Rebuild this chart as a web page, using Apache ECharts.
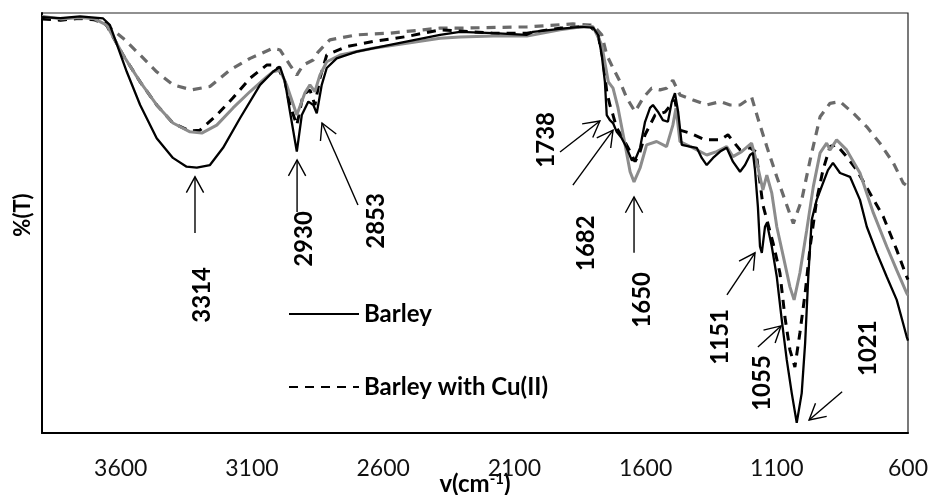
<!DOCTYPE html>
<html>
<head>
<meta charset="utf-8">
<script src="https://cdn.jsdelivr.net/npm/echarts@6/dist/echarts.min.js"></script>
<style>
html,body{margin:0;padding:0;background:#fff;}
#chart{width:931px;height:495px;}
</style>
</head>
<body>
<div id="chart"></div>
<script>
// x tick labels (wavenumber, cm-1)
const tickLabels = [3600, 3100, 2600, 2100, 1600, 1100, 600];

// Barley (black solid): [wavenumber, %T]
const barley = [[3900,99.0],[3830,98.8],[3755,99.2],[3700,98.9],[3667,98.7],[3641,97.1],[3577,86.0],[3526,78.1],[3463,70.2],[3401,65.5],[3349,63.4],[3310,63.2],[3260,63.8],[3210,67.9],[3145,75.0],[3069,82.9],[3020,86.0],[2993,87.2],[2974,83.6],[2955,76.5],[2929,67.0],[2910,75.7],[2885,78.9],[2866,78.1],[2853,76.1],[2834,82.9],[2815,86.9],[2777,89.2],[2701,90.8],[2574,92.4],[2383,94.8],[2307,95.5],[2181,95.2],[2052,94.8],[2029,95.5],[1926,96.2],[1850,96.7],[1800,96.5],[1781,94.8],[1767,90.0],[1755,83.6],[1748,75.7],[1736,74.5],[1724,73.8],[1710,71.7],[1691,70.2],[1672,67.9],[1653,65.0],[1640,65.0],[1621,67.9],[1602,74.1],[1583,77.4],[1572,78.1],[1553,76.5],[1534,74.5],[1515,74.1],[1500,78.9],[1488,80.9],[1476,76.5],[1462,68.6],[1431,68.2],[1405,67.9],[1386,65.5],[1367,63.8],[1343,65.5],[1316,67.0],[1291,67.9],[1267,64.6],[1240,62.2],[1221,63.8],[1202,66.2],[1191,66.7],[1183,62.6],[1172,53.9],[1164,44.4],[1157,42.9],[1145,49.1],[1138,50.0],[1119,44.4],[1100,37.2],[1081,26.9],[1062,17.4],[1043,9.5],[1024,2.4],[1005,9.5],[992,21.4],[980,37.2],[967,50.7],[948,55.5],[924,59.5],[905,62.6],[886,64.3],[859,61.9],[821,61.0],[783,55.5],[757,49.1],[719,42.9],[681,37.2],[643,31.7],[619,26.2],[605,22.9],[600,22.0]];

// Barley with Cu(II) (black dashed)
const barleyCu = [[3900,98.6],[3830,98.3],[3755,98.8],[3700,98.4],[3667,98.3],[3653,97.0],[3591,90.0],[3526,83.6],[3463,78.1],[3401,73.8],[3336,71.9],[3298,72.1],[3234,75.7],[3172,79.8],[3107,84.5],[3044,87.6],[3006,87.6],[2974,83.6],[2955,78.0],[2929,73.3],[2905,80.5],[2879,81.7],[2860,78.1],[2841,84.5],[2815,90.0],[2739,92.0],[2639,93.2],[2510,94.4],[2383,96.0],[2307,95.7],[2181,95.2],[2052,95.2],[1926,96.4],[1812,96.9],[1781,94.8],[1762,88.8],[1748,81.3],[1736,78.1],[1724,75.7],[1710,72.6],[1686,70.2],[1659,67.0],[1640,64.6],[1621,67.0],[1602,71.0],[1564,75.7],[1526,76.4],[1488,79.3],[1469,72.1],[1431,71.4],[1374,69.8],[1316,69.8],[1286,71.0],[1240,67.4],[1202,67.9],[1179,66.9],[1153,54.3],[1114,45.2],[1088,38.1],[1069,27.6],[1050,19.8],[1031,15.7],[1012,23.8],[992,33.3],[973,44.3],[948,55.5],[924,62.6],[897,68.2],[872,68.6],[834,65.8],[795,62.6],[745,57.1],[694,51.5],[643,43.6],[605,37.2],[600,36.5]];

// grey solid spectrum
const greySolid = [[3900,99.2],[3830,98.6],[3755,98.9],[3700,98.6],[3653,97.1],[3591,90.0],[3526,83.6],[3463,78.1],[3401,73.8],[3336,71.7],[3291,71.4],[3234,73.3],[3172,77.4],[3107,81.3],[3044,84.8],[3020,86.0],[2993,86.4],[2968,82.9],[2929,75.7],[2898,81.0],[2879,82.9],[2860,81.3],[2841,85.2],[2815,88.4],[2764,90.0],[2639,91.6],[2510,92.8],[2383,94.0],[2307,94.3],[2181,94.5],[2052,94.5],[1926,96.0],[1823,96.9],[1800,96.7],[1767,92.4],[1742,83.6],[1724,82.1],[1705,77.4],[1678,68.6],[1659,62.2],[1644,59.8],[1621,63.1],[1596,68.6],[1558,69.4],[1520,68.2],[1496,73.3],[1484,77.4],[1469,69.4],[1419,67.9],[1367,66.2],[1329,67.0],[1291,68.2],[1267,65.8],[1234,67.0],[1196,69.0],[1177,64.6],[1164,61.0],[1153,57.9],[1138,61.4],[1119,57.1],[1100,49.1],[1075,42.0],[1050,34.8],[1034,31.7],[1012,38.1],[986,48.3],[961,58.6],[935,66.7],[910,69.0],[897,67.4],[872,69.8],[834,67.4],[783,61.9],[732,52.4],[681,44.4],[643,38.8],[605,33.3],[600,32.8]];

// grey dashed spectrum
const greyDashed = [[3900,99.0],[3830,98.4],[3755,98.7],[3700,98.4],[3653,97.1],[3591,94.0],[3526,90.0],[3463,86.0],[3401,82.9],[3330,81.7],[3260,82.5],[3184,86.4],[3107,89.2],[3020,91.6],[2993,91.2],[2955,87.6],[2929,85.2],[2905,87.6],[2867,88.8],[2848,90.7],[2803,93.6],[2701,94.8],[2574,95.2],[2448,96.0],[2383,96.4],[2307,96.4],[2052,96.7],[1877,97.4],[1800,97.1],[1767,94.8],[1748,90.0],[1724,86.9],[1697,83.6],[1672,79.8],[1640,76.5],[1609,79.8],[1577,82.1],[1545,81.7],[1520,82.1],[1496,84.0],[1469,80.5],[1419,79.3],[1367,78.1],[1316,78.9],[1278,78.1],[1240,78.1],[1196,80.0],[1170,74.5],[1138,68.2],[1100,61.0],[1069,55.5],[1037,49.9],[1005,55.5],[973,65.0],[935,75.3],[897,78.5],[859,78.9],[808,76.1],[757,72.9],[707,69.0],[656,64.3],[618,59.5],[600,58.7]];

// peak annotations in data coordinates: label centre, arrow tail, arrow tip
const annotations = [
  {text:'3314', at:[3290,32.9], from:[3317,47.6], to:[3317,61.0]},
  {text:'2930', at:[2902,46.2], from:[2928,52.6], to:[2928,65.0]},
  {text:'2853', at:[2627,50.5], from:[2696,54.3], to:[2833,73.8]},
  {text:'1738', at:[1979,69.8], from:[1926,66.9], to:[1774,74.3]},
  {text:'1682', at:[1827,45.2], from:[1877,59.0], to:[1724,72.1]},
  {text:'1650', at:[1614,31.7], from:[1644,42.9], to:[1644,56.2]},
  {text:'1151', at:[1316,22.9], from:[1290,32.9], to:[1183,42.9]},
  {text:'1055', at:[1156,11.9], from:[1172,20.5], to:[1084,25.5]},
  {text:'1021', at:[752,20.2], from:[851,9.8], to:[977,3.1]}
];

const FONT = 'Lato';
const chart = echarts.init(document.getElementById('chart'), null, {renderer:'canvas'});

const legendText = {fontFamily: FONT, fontWeight: 'bold', fontSize: 24, color: '#000'};

chart.setOption({
  animation: false,
  backgroundColor: '#fff',
  grid: {left: 42, right: 23, top: 13, bottom: 62, show: true, borderColor: '#222', borderWidth: 1.2,
         backgroundColor: 'transparent', outerBoundsMode: 'none', containLabel: false},
  legend: [
    {data: ['Barley'], left: 288, top: 302, padding: 0, itemWidth: 70, itemHeight: 14, itemGap: 0,
     textStyle: legendText, selectedMode: false, itemStyle: {opacity: 0}},
    {data: ['Barley with Cu(II)'], left: 288, top: 375, padding: 0, itemWidth: 70, itemHeight: 14, itemGap: 0,
     textStyle: legendText, selectedMode: false, itemStyle: {opacity: 0}}
  ],
  xAxis: {
    type: 'value', min: 600, max: 3900, inverse: true,
    axisLine: {show: true, onZero: false, lineStyle: {color: '#000', width: 2}},
    axisTick: {show: false},
    splitLine: {show: false},
    axisLabel: {customValues: tickLabels, formatter: v => String(v), fontFamily: FONT, fontSize: 23, color: '#111', margin: 24},
    name: 'v(cm{sup|-1})',
    nameLocation: 'middle', nameGap: 39, nameMoveOverlap: false,
    nameTextStyle: {fontFamily: FONT, fontWeight: 'bold', fontSize: 24, color: '#000',
      rich: {sup: {fontFamily: FONT, fontWeight: 'bold', fontSize: 15, color: '#000', verticalAlign: 'top'}}}
  },
  yAxis: {
    type: 'value', min: 0, max: 100,
    axisLine: {show: true, onZero: false, lineStyle: {color: '#000', width: 2}},
    axisTick: {show: false}, axisLabel: {show: false}, splitLine: {show: false}
  },
  series: [
    {name: 'grey dashed', type: 'line', data: greyDashed, symbol: 'none', z: 2,
     lineStyle: {color: '#6a6a6a', width: 3.2, type: [9, 7]}},
    {name: 'Barley with Cu(II)', type: 'line', data: barleyCu, symbol: 'none', z: 3,
     lineStyle: {color: '#000', width: 3, type: [9, 7]}, itemStyle: {color: '#000'}},
    {name: 'grey solid', type: 'line', data: greySolid, symbol: 'none', z: 4,
     lineStyle: {color: '#8c8c8c', width: 3}},
    {name: 'Barley', type: 'line', data: barley, symbol: 'none', z: 5,
     lineStyle: {color: '#000', width: 2.3}, itemStyle: {color: '#000'}}
  ]
});

function px(p) { return chart.convertToPixel({xAxisIndex: 0, yAxisIndex: 0}, p); }

const graphics = [];
// y-axis title
graphics.push({type: 'text', x: 23, y: 215, rotation: Math.PI / 2, z: 100,
  style: {text: '%(T)', fontFamily: FONT, fontWeight: 'bold', fontSize: 22, fill: '#000', align: 'center', verticalAlign: 'middle'}});
annotations.forEach(a => {
  const c = px(a.at), f = px(a.from), t = px(a.to);
  graphics.push({type: 'text', x: c[0], y: c[1], rotation: Math.PI / 2, z: 100,
    style: {text: a.text, fontFamily: FONT, fontWeight: 'bold', fontSize: 24, fill: '#000', align: 'center', verticalAlign: 'middle'}});
  const ang = Math.atan2(t[1] - f[1], t[0] - f[0]);
  const L = 18, h = 0.5;
  const h1 = [t[0] - L * Math.cos(ang - h), t[1] - L * Math.sin(ang - h)];
  const h2 = [t[0] - L * Math.cos(ang + h), t[1] - L * Math.sin(ang + h)];
  graphics.push({type: 'line', z: 100, shape: {x1: f[0], y1: f[1], x2: t[0], y2: t[1]}, style: {stroke: '#000', lineWidth: 1.4}});
  graphics.push({type: 'polyline', z: 100, shape: {points: [h1, t, h2]}, style: {stroke: '#000', lineWidth: 1.4, fill: null}});
});
chart.setOption({graphic: graphics});
</script>
</body>
</html>
